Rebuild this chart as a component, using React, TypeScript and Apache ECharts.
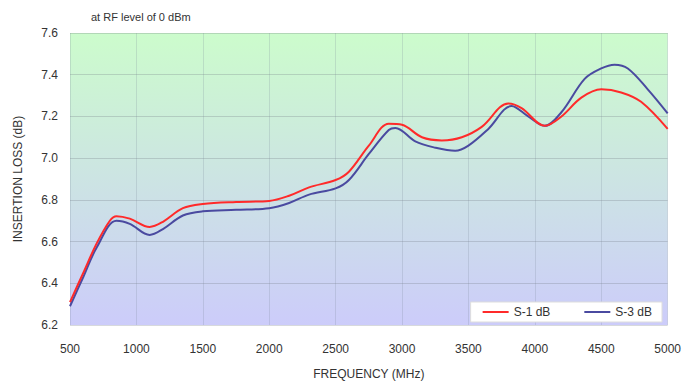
import React, { useEffect, useRef } from "react";
import * as echarts from "echarts";

const freqS1 = [500, 600, 700, 800, 850, 950, 1100, 1200, 1350, 1500, 1750, 2000, 2150, 2300, 2500, 2600, 2750, 2900, 3000, 3150, 3300, 3450, 3600, 3800, 3900, 4075, 4200, 4350, 4500, 4650, 4800, 5000];
const lossS1 = [6.31, 6.45, 6.59, 6.70, 6.722, 6.71, 6.67, 6.695, 6.76, 6.78, 6.79, 6.795, 6.82, 6.86, 6.895, 6.935, 7.06, 7.165, 7.16, 7.10, 7.085, 7.10, 7.15, 7.262, 7.24, 7.155, 7.20, 7.29, 7.33, 7.315, 7.27, 7.14];

const freqS3 = [500, 600, 700, 850, 950, 1100, 1200, 1350, 1500, 1750, 2000, 2150, 2300, 2500, 2600, 2750, 2900, 2950, 3100, 3250, 3400, 3500, 3650, 3825, 3950, 4075, 4200, 4375, 4500, 4600, 4700, 4850, 5000];
const lossS3 = [6.29, 6.43, 6.57, 6.70, 6.685, 6.632, 6.66, 6.725, 6.745, 6.752, 6.76, 6.785, 6.825, 6.855, 6.895, 7.02, 7.135, 7.145, 7.08, 7.05, 7.035, 7.06, 7.14, 7.25, 7.20, 7.155, 7.22, 7.38, 7.43, 7.448, 7.43, 7.33, 7.215];

const seriesNames = ["S-1 dB", "S-3 dB"];
const titleText = "at RF level of 0 dBm";
const xTitle = "FREQUENCY (MHz)";
const yTitle = "INSERTION LOSS (dB)";

const FONT = "Liberation Sans, Arial, sans-serif";

export default function App() {
  const ref = useRef<HTMLDivElement>(null);
  useEffect(() => {
    if (!ref.current) return;
    const chart = echarts.init(ref.current, undefined, { renderer: "svg" });
    const pair = (xs: number[], ys: number[]) => xs.map((x, i) => [x, ys[i]]);
    chart.setOption({
      animation: false,
      backgroundColor: "#ffffff",
      textStyle: { fontFamily: FONT },
      title: {
        text: titleText,
        left: 86,
        top: 6,
        textStyle: { fontSize: 11, fontWeight: "normal", color: "#333", fontFamily: FONT },
      },
      grid: {
        left: 70,
        right: 14,
        top: 33,
        bottom: 57,
        show: true,
        borderWidth: 0,
        backgroundColor: new echarts.graphic.LinearGradient(0, 0, 0, 1, [
          { offset: 0, color: "#ccfccc" },
          { offset: 1, color: "#ccccfa" },
        ]),
      },
      legend: {
        right: 22,
        bottom: 63,
        orient: "horizontal",
        backgroundColor: "#ffffff",
        borderColor: "#dddddd",
        borderWidth: 1,
        borderRadius: 0,
        padding: [4, 10, 4, 12],
        itemGap: 34,
        itemWidth: 26,
        itemHeight: 2,
        icon: "rect",
        textStyle: { fontSize: 12, color: "#333", fontFamily: FONT },
        data: seriesNames,
      },
      xAxis: {
        type: "value",
        min: 500,
        max: 5000,
        interval: 500,
        name: xTitle,
        nameLocation: "middle",
        nameGap: 43,
        nameTextStyle: { fontSize: 12, color: "#333", fontFamily: FONT },
        axisLine: { show: false },
        axisTick: { show: false },
        axisLabel: { fontSize: 12, color: "#333", margin: 18, fontFamily: FONT, formatter: (v: number) => String(v) },
        splitLine: { show: true, lineStyle: { color: "rgba(120,130,150,0.22)", width: 1 } },
      },
      yAxis: {
        type: "value",
        min: 6.2,
        max: 7.6,
        interval: 0.2,
        name: yTitle,
        nameLocation: "middle",
        nameGap: 46,
        nameRotate: 90,
        nameTextStyle: { fontSize: 12, color: "#333", fontFamily: FONT },
        axisLine: { show: false },
        axisTick: { show: false },
        axisLabel: {
          fontSize: 12,
          color: "#333",
          margin: 12,
          fontFamily: FONT,
          formatter: (v: number) => v.toFixed(1),
        },
        splitLine: { show: true, lineStyle: { color: "rgba(110,120,130,0.28)", width: 1 } },
      },
      series: [
        {
          name: seriesNames[0],
          type: "line",
          smooth: 0.35,
          showSymbol: false,
          symbol: "none",
          data: pair(freqS1, lossS1),
          lineStyle: { color: "#ff2a2a", width: 2 },
          itemStyle: { color: "#ff2a2a" },
          z: 3,
        },
        {
          name: seriesNames[1],
          type: "line",
          smooth: 0.35,
          showSymbol: false,
          symbol: "none",
          data: pair(freqS3, lossS3),
          lineStyle: { color: "#4a4aa0", width: 2 },
          itemStyle: { color: "#4a4aa0" },
          z: 2,
        },
      ],
    });
    return () => chart.dispose();
  }, []);
  return <div ref={ref} style={{ width: 684, height: 385, position: "absolute", left: 0, top: 0 }} />;
}
